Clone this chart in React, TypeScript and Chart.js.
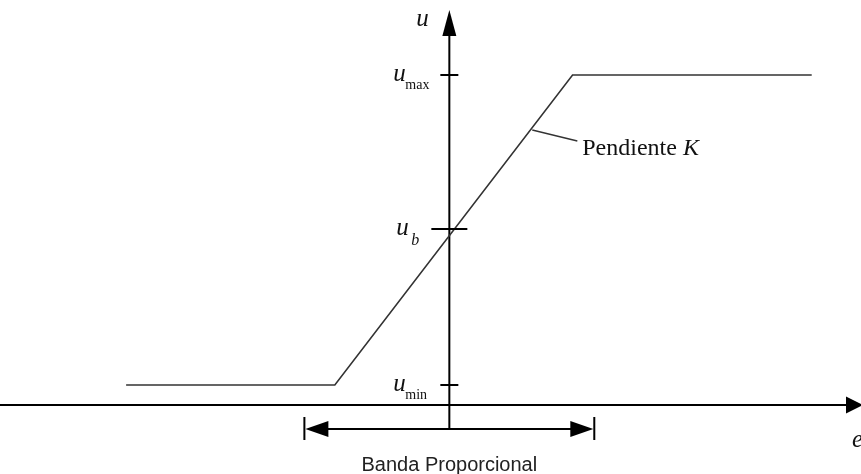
import React, { useEffect, useRef } from "react";
import { Chart, registerables } from "chart.js";

Chart.register(...registerables);

// Scale ranges (arbitrary schematic units)
const E_RANGE = [-31, 28.4];
const U_RANGE = [-3.45, 20.25];

// Controller characteristic (saturated proportional)
const eResponse = [-22.3, -7.9, 8.5, 25.0];
const uResponse = [1, 1, 16.5, 16.5];

// Tick values on the u axis
const uTicks = [16.5, 8.8, 1];
const uTickNames = ["max", "b", "min"];
const uTickHalfWidth = [9, 18, 9];

// Axes extents
const uAxisExtent = [-1.2, 19.75];
const eAxisExtent = [-31, 28.4];

// Proportional band
const bandE = [-10, 10];
const bandU = -1.2;
const bandLabel = "Banda Proporcional";
const bandLabelU = -2.9;

// Slope annotation
const leaderE = [5.72, 8.83];
const leaderU = [13.75, 13.2];
const slopeText = "Pendiente ";
const slopeSymbol = "K";
const slopeTextPos = [9.17, 12.5];

const axisLabelU = "u";
const axisLabelE = "e";

const App: React.FC = () => {
  const ref = useRef<HTMLCanvasElement | null>(null);

  useEffect(() => {
    if (!ref.current) return;

    const overlay = {
      id: "overlay",
      afterDatasetsDraw(chart: any) {
        const ctx = chart.ctx as CanvasRenderingContext2D;
        const xs = chart.scales.x;
        const ys = chart.scales.y;
        const px = (v: number) => xs.getPixelForValue(v);
        const py = (v: number) => ys.getPixelForValue(v);
        ctx.save();
        ctx.fillStyle = "#000";
        ctx.strokeStyle = "#000";

        // vertical axis arrowhead
        const x0 = px(0);
        const yTip = py(uAxisExtent[1]);
        ctx.beginPath();
        ctx.moveTo(x0, yTip);
        ctx.lineTo(x0 - 7, yTip + 26);
        ctx.lineTo(x0 + 7, yTip + 26);
        ctx.closePath();
        ctx.fill();

        // horizontal axis arrowhead
        const y0 = py(0);
        const xTip = px(eAxisExtent[1]);
        ctx.beginPath();
        ctx.moveTo(xTip + 2, y0);
        ctx.lineTo(xTip - 15, y0 - 8.5);
        ctx.lineTo(xTip - 15, y0 + 8.5);
        ctx.closePath();
        ctx.fill();

        // band arrows
        const yb = py(bandU);
        const xl = px(bandE[0]);
        const xr = px(bandE[1]);
        ctx.beginPath();
        ctx.moveTo(xl + 1, yb);
        ctx.lineTo(xl + 24, yb - 8);
        ctx.lineTo(xl + 24, yb + 8);
        ctx.closePath();
        ctx.fill();
        ctx.beginPath();
        ctx.moveTo(xr - 1, yb);
        ctx.lineTo(xr - 24, yb - 8);
        ctx.lineTo(xr - 24, yb + 8);
        ctx.closePath();
        ctx.fill();
        ctx.lineWidth = 2;
        ctx.beginPath();
        ctx.moveTo(xl, yb - 12);
        ctx.lineTo(xl, yb + 11);
        ctx.moveTo(xr, yb - 12);
        ctx.lineTo(xr, yb + 11);
        ctx.stroke();

        // u ticks
        ctx.lineWidth = 2;
        uTicks.forEach((u, i) => {
          const yy = py(u);
          ctx.beginPath();
          ctx.moveTo(x0 - uTickHalfWidth[i], yy);
          ctx.lineTo(x0 + uTickHalfWidth[i], yy);
          ctx.stroke();
        });

        // labels
        ctx.fillStyle = "#111";
        ctx.textBaseline = "alphabetic";
        ctx.textAlign = "left";
        ctx.font = "italic 25px 'Liberation Serif'";
        ctx.fillText(axisLabelU, x0 - 33, yTip + 16);

        uTicks.forEach((u, i) => {
          const yy = py(u);
          ctx.font = "italic 25px 'Liberation Serif'";
          const name = uTickNames[i];
          if (name === "b") {
            ctx.fillText("u", x0 - 53, yy + 6);
            ctx.font = "italic 16px 'Liberation Serif'";
            ctx.fillText(name, x0 - 38, yy + 16);
          } else {
            ctx.fillText("u", x0 - 56, yy + 6);
            ctx.font = "14px 'Liberation Serif'";
            ctx.fillText(name, x0 - 44, yy + 14);
          }
        });

        // slope text
        ctx.font = "24px 'Liberation Serif'";
        const tx = px(slopeTextPos[0]);
        const ty = py(slopeTextPos[1]);
        ctx.fillText(slopeText, tx, ty);
        const w = ctx.measureText(slopeText).width;
        ctx.font = "italic 24px 'Liberation Serif'";
        ctx.fillText(slopeSymbol, tx + w, ty);

        // e label
        ctx.font = "italic 25px 'Liberation Serif'";
        ctx.fillText(axisLabelE, xTip - 9, y0 + 42);

        // band label
        ctx.font = "20px 'Liberation Sans'";
        ctx.textAlign = "center";
        ctx.fillStyle = "#222";
        ctx.fillText(bandLabel, px(0), py(bandLabelU) + 8);

        ctx.restore();
      },
    };

    const line = (pts: { x: number; y: number }[], color: string, width: number) => ({
      data: pts,
      showLine: true,
      borderColor: color,
      borderWidth: width,
      pointRadius: 0,
      fill: false,
      tension: 0,
    });

    const chart = new Chart(ref.current, {
      type: "scatter",
      data: {
        datasets: [
          line(eResponse.map((e, i) => ({ x: e, y: uResponse[i] })), "#333", 1.6),
          line([{ x: eAxisExtent[0], y: 0 }, { x: eAxisExtent[1] - 0.5, y: 0 }], "#000", 2),
          line([{ x: 0, y: uAxisExtent[0] }, { x: 0, y: uAxisExtent[1] - 1 }], "#000", 2),
          line([{ x: bandE[0] + 1, y: bandU }, { x: bandE[1] - 1, y: bandU }], "#000", 2),
          line(leaderE.map((e, i) => ({ x: e, y: leaderU[i] })), "#333", 1.3),
        ] as any,
      },
      options: {
        animation: false,
        responsive: false,
        layout: { padding: 0 },
        plugins: { legend: { display: false }, tooltip: { enabled: false } },
        scales: {
          x: { type: "linear", min: E_RANGE[0], max: E_RANGE[1], display: false },
          y: { type: "linear", min: U_RANGE[0], max: U_RANGE[1], display: false },
        },
      },
      plugins: [overlay],
    });
    return () => chart.destroy();
  }, []);

  return (
    <div style={{ position: "absolute", left: 0, top: 0, width: 861, height: 474, background: "#fff" }}>
      <canvas ref={ref} width={861} height={474} />
    </div>
  );
};

export default App;
